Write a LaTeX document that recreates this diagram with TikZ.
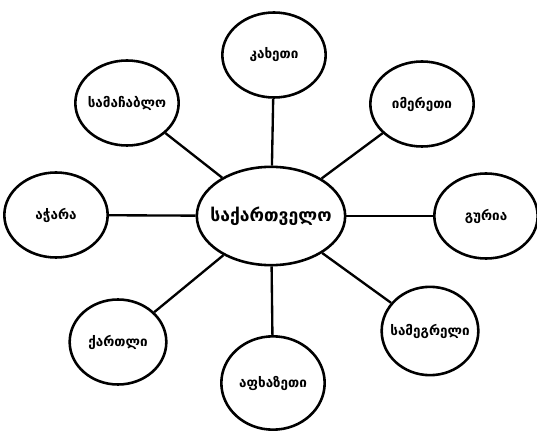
\documentclass[tikz,border=0pt]{standalone}
\usepackage{fontspec}
\newfontfamily\geofont{DejaVu Sans}
\usepackage{tikz}
\usetikzlibrary{shapes.geometric,positioning}
\newcommand{\regname}[1]{\makebox[0pt]{#1}}
\tikzset{
 region/.style
  = {ellipse, draw, line width=2.2pt, inner sep=0pt, minimum width=3.1cm,
     minimum height=2.55cm, font=\geofont\bfseries\fontsize{11.5}{13}\selectfont},
 country/.style
  = {ellipse, draw, line width=2.2pt, inner sep=0pt, minimum width=4.45cm,
     minimum height=2.95cm, font=\geofont\bfseries\fontsize{15}{17}\selectfont},
 link/.style
  = {draw, line width=2pt},
}
\begin{document}
\begin{tikzpicture}[x=0.03cm, y=-0.03cm]
\useasboundingbox (0,0) rectangle (537,431);
\node (geo) [country] at (271,216) {\regname{საქართველო}};
\node (kakheti) [region] at (274,55) {\regname{კახეთი}};
\node (imereti) [region] at (422,104) {\regname{იმერეთი}};
\node (guria) [region] at (486,216) {\regname{გურია}};
\node (samegrelo) [region, minimum width=2.9cm, minimum height=2.65cm] at (430,331) {\regname{სამეგრელი}};
\node (abkhazeti) [region, minimum height=2.8cm] at (273,383) {\regname{აფხაზეთი}};
\node (kartli) [region, minimum width=2.9cm] at (118,342) {\regname{ქართლი}};
\node (adjara) [region] at (56,215) {\regname{აჭარა}};
\node (samachablo) [region] at (127,103) {\regname{სამაჩაბლო}};
\draw [link] (geo) -- (kakheti);
\draw [link] (geo) -- (imereti);
\draw [link] (geo) -- (guria);
\draw [link] (geo) -- (samegrelo);
\draw [link] (geo) -- (abkhazeti);
\draw [link] (geo) -- (kartli);
\draw [link] (geo) -- (adjara);
\draw [link] (geo) -- (samachablo);
\end{tikzpicture}
\end{document}
